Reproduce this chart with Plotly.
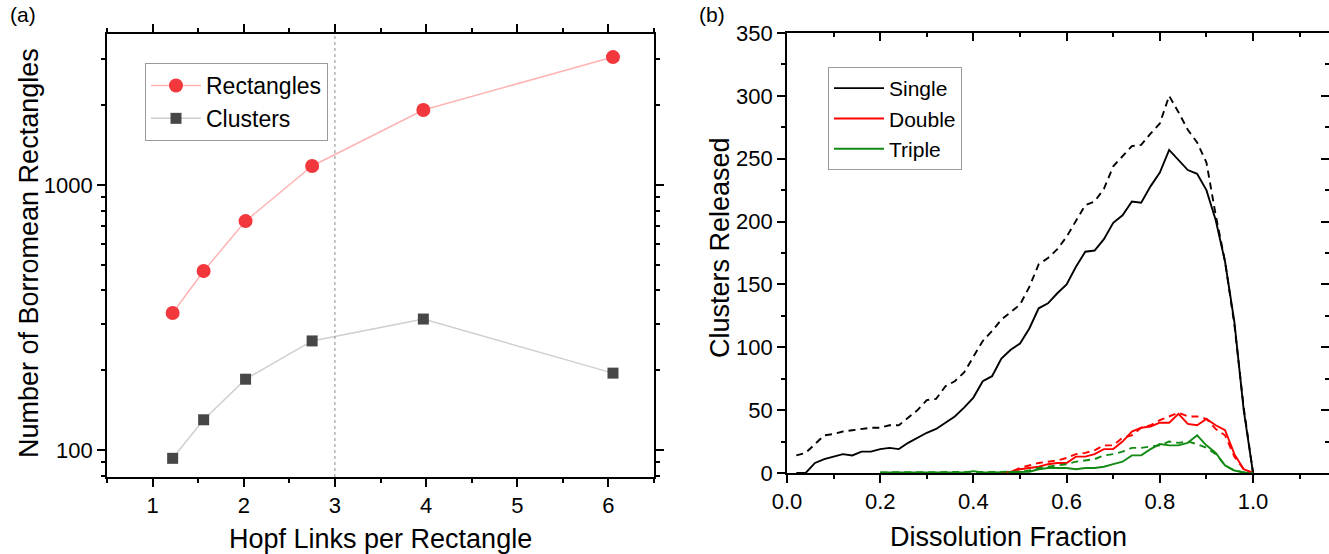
import plotly.graph_objects as go

# ---------------- Panel (a) data ----------------
hopf_links = [1.22, 1.56, 2.02, 2.75, 3.97, 6.05]
rectangles = [329, 474, 731, 1180, 1919, 3040]
clusters = [93, 130, 185, 258, 312, 195]

# ---------------- Panel (b) data ----------------
frac = [0.02, 0.04, 0.06, 0.08, 0.10, 0.12, 0.14, 0.16, 0.18, 0.20,
        0.22, 0.24, 0.26, 0.28, 0.30, 0.32, 0.34, 0.36, 0.38, 0.40,
        0.42, 0.44, 0.46, 0.48, 0.50, 0.52, 0.54, 0.56, 0.58, 0.60,
        0.62, 0.64, 0.66, 0.68, 0.70, 0.72, 0.74, 0.76, 0.78, 0.80,
        0.82, 0.84, 0.86, 0.88, 0.90, 0.92, 0.94, 0.96, 0.98, 1.00]

single_solid = [0, 0, 8, 11, 13, 15, 14, 17, 17, 19,
                20, 19, 24, 28, 32, 35, 40, 45, 52, 60,
                73, 77, 91, 98, 103, 115, 131, 135, 143, 150,
                164, 176, 177, 186, 199, 205, 216, 215, 228, 239,
                257, 249, 241, 238, 225, 201, 168, 120, 50, 0]
single_dashed = [14, 16, 23, 30, 31, 33, 34, 35, 36, 36,
                 38, 38, 44, 50, 58, 59, 69, 73, 80, 92,
                 105, 113, 122, 128, 134, 148, 166, 171, 178, 188,
                 201, 213, 216, 226, 244, 252, 260, 261, 270, 278,
                 300, 287, 273, 263, 247, 205, 168, 118, 52, 0]

# Double: from 0.46 onwards
double_solid = [0, 1, 3, 4, 5, 7, 8, 8, 13, 13,
                15, 19, 19, 25, 33, 36, 37, 40, 40, 47,
                39, 38, 43, 38, 34, 15, 3, 0]
double_dashed = [0, 1, 4, 6, 8, 9, 10, 12, 15, 16,
                 18, 22, 22, 28, 30, 36, 38, 42, 45, 48,
                 45, 45, 43, 35, 30, 13, 3, 0]

# Triple: from 0.20 onwards
triple_solid = [0.5, 0.5, 0.5, 0.5, 0.5, 0.5, 0.5, 0.5, 0.5, 0.5,
                1.5, 0.5, 0.5, 0.5, 0.5, 0.5, 1, 3, 4, 4,
                4, 3, 4, 4, 5, 7, 9, 14, 14, 19,
                23, 22, 22, 24, 30, 22, 16, 6, 2, 0.5, 0]
triple_dashed = [0.5, 0.5, 0.5, 0.5, 0.5, 0.5, 0.5, 0.5, 0.5, 0.5,
                 1, 0.5, 0.5, 0.5, 0.5, 1, 2, 4, 5, 6,
                 7, 9, 10, 11, 14, 15, 17, 20, 20, 21,
                 22, 25, 24, 25, 23, 20, 15, 6, 2, 0.5, 0]

frac_double = frac[22:]
frac_triple = frac[9:]

FONT = "Liberation Sans, Arial, sans-serif"
W, H = 1329, 554
TICK_FS = 22
TITLE_FS = 27

fig = go.Figure()

# Panel (a)
fig.add_trace(go.Scatter(
    x=hopf_links, y=rectangles, mode="lines+markers", name="Rectangles",
    line=dict(color="#ffb4b4", width=1.5),
    marker=dict(color="#f2373d", size=14, symbol="circle"),
    xaxis="x", yaxis="y", legend="legend"))
fig.add_trace(go.Scatter(
    x=hopf_links, y=clusters, mode="lines+markers", name="Clusters",
    line=dict(color="#cfcfcf", width=1.5),
    marker=dict(color="#474747", size=11, symbol="square"),
    xaxis="x", yaxis="y", legend="legend"))

# Panel (b) solid lines
lw = 1.9
fig.add_trace(go.Scatter(x=frac, y=single_solid, mode="lines", name="Single",
                         line=dict(color="black", width=lw),
                         xaxis="x2", yaxis="y2", legend="legend2"))
fig.add_trace(go.Scatter(x=frac_double, y=double_solid, mode="lines", name="Double",
                         line=dict(color="#ff0000", width=lw),
                         xaxis="x2", yaxis="y2", legend="legend2"))
fig.add_trace(go.Scatter(x=frac_triple, y=triple_solid, mode="lines", name="Triple",
                         line=dict(color="#138a13", width=lw),
                         xaxis="x2", yaxis="y2", legend="legend2"))
# Panel (b) dashed lines (on overlay axes giving inward top/right ticks)
for xs, ys, col in [(frac, single_dashed, "black"),
                    (frac_double, double_dashed, "#ff0000"),
                    (frac_triple, triple_dashed, "#138a13")]:
    fig.add_trace(go.Scatter(x=xs, y=ys, mode="lines", showlegend=False,
                             line=dict(color=col, width=lw, dash="7px,5px"),
                             xaxis="x3", yaxis="y3"))

axis_common = dict(showgrid=False, zeroline=False, showline=True, linecolor="black",
                   linewidth=1.8, tickcolor="black", tickwidth=1.5, automargin=False,
                   tickfont=dict(family=FONT, size=TICK_FS, color="black"))

xa_dom = [107 / W, 654 / W]
ya_dom = [(H - 477) / H, (H - 34) / H]
xb_dom = [787 / W, 1.0]
yb_dom = [(H - 473) / H, (H - 33) / H]

fig.update_layout(
    width=W, height=H, margin=dict(l=0, r=0, t=0, b=0, autoexpand=False),
    paper_bgcolor="white", plot_bgcolor="white",
    font=dict(family=FONT, color="black"),
    xaxis=dict(**axis_common, domain=xa_dom, range=[0.5, 6.5], dtick=1, tick0=0,
               ticks="outside", ticklen=8, mirror="ticks", anchor="y",
               minor=dict(dtick=0.5, ticks="outside", ticklen=4, tickwidth=1.5,
                          tickcolor="black")),
    yaxis=dict(**axis_common, type="log", domain=ya_dom, range=[1.898, 3.57],
               dtick=1, exponentformat="none",
               ticks="outside", ticklen=8, mirror="ticks", anchor="x",
               minor=dict(dtick="D1", ticks="outside", ticklen=4, tickwidth=1.5,
                          tickcolor="black")),
    xaxis2=dict(**axis_common, domain=xb_dom, range=[0, 1.163], dtick=0.2, tick0=0,
                tickformat=".1f", ticks="outside", ticklen=8, anchor="y2",
                minor=dict(dtick=0.1, ticks="outside", ticklen=4, tickwidth=1.5,
                           tickcolor="black")),
    yaxis2=dict(**axis_common, domain=yb_dom, range=[0, 350], dtick=50, tick0=0,
                ticks="outside", ticklen=8, anchor="x2",
                minor=dict(dtick=25, ticks="outside", ticklen=4, tickwidth=1.5,
                           tickcolor="black")),
    xaxis3=dict(showgrid=False, zeroline=False, showline=True, linecolor="black",
                linewidth=1.8, overlaying="x2", side="top", anchor="y3",
                automargin=False,
                range=[0, 1.163], dtick=0.2, tick0=0, ticks="inside", ticklen=8,
                tickwidth=1.5, tickcolor="black", showticklabels=False,
                minor=dict(dtick=0.1, ticks="inside", ticklen=4, tickwidth=1.5,
                           tickcolor="black")),
    yaxis3=dict(showgrid=False, zeroline=False, showline=False,
                overlaying="y2", side="right", anchor="x3", automargin=False,
                range=[0, 350], dtick=50, tick0=0, ticks="inside", ticklen=8,
                tickwidth=1.5, tickcolor="black", showticklabels=False,
                minor=dict(dtick=25, ticks="inside", ticklen=4, tickwidth=1.5,
                           tickcolor="black")),
    legend=dict(x=145 / W, y=(H - 63) / H, xanchor="left", yanchor="top",
                bordercolor="#9a9a9a", borderwidth=1, bgcolor="white",
                font=dict(family=FONT, size=23), itemwidth=50,
                traceorder="grouped", tracegroupgap=0),
    legend2=dict(x=828 / W, y=(H - 67) / H, xanchor="left", yanchor="top",
                 bordercolor="#9a9a9a", borderwidth=1, bgcolor="white",
                 font=dict(family=FONT, size=21), itemwidth=50,
                 traceorder="grouped", tracegroupgap=0),
    showlegend=True,
)

# give each legend item its own group
for i, tr in enumerate(fig.data):
    tr.legendgroup = f"g{i}"

# dotted vertical reference line at x = 3
fig.add_shape(type="line", xref="x", yref="y domain", x0=3, x1=3, y0=0, y1=1,
              line=dict(color="#8a8a8a", width=1, dash="dot"))

# axis titles and panel labels
def label(text, x, y, size, angle=0, anchor="center"):
    fig.add_annotation(text=text, xref="paper", yref="paper", x=x / W, y=(H - y) / H,
                       showarrow=False, textangle=angle,
                       font=dict(family=FONT, size=size, color="black"),
                       xanchor=anchor, yanchor="middle")

label("Hopf Links per Rectangle", 380, 539, TITLE_FS)
label("Number of Borromean Rectangles", 29, 253, TITLE_FS, angle=-90)
label("Dissolution Fraction", 1008, 537, TITLE_FS)
label("Clusters Released", 720, 248, TITLE_FS, angle=-90)
label("(a)", 8, 14, 21, anchor="left")
label("(b)", 697, 14, 21, anchor="left")

fig.write_html("out.html",
               config={"displayModeBar": False},
               post_script="document.body.style.margin='0px';"
                           "document.body.style.overflow='hidden';")
